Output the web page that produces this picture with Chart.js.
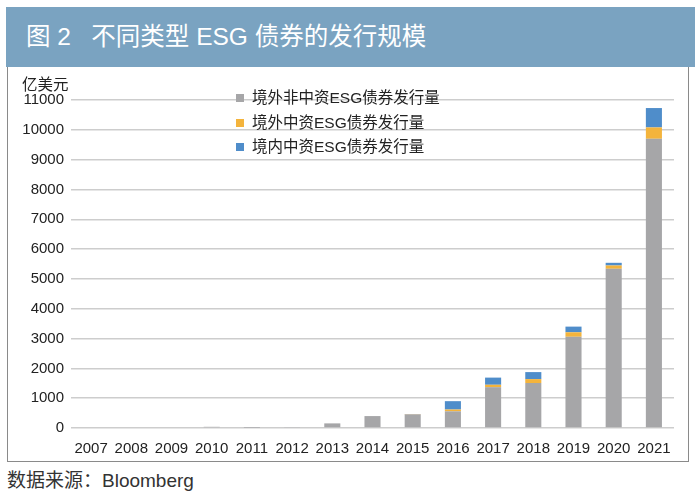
<!DOCTYPE html>
<html>
<head>
<meta charset="utf-8">
<script src="https://cdn.jsdelivr.net/npm/chart.js@4.4.1/dist/chart.umd.min.js"></script>
<style>
  body { margin: 0; background: #fff; width: 700px; height: 497px; position: relative; overflow: hidden;
         font-family: "Liberation Sans", "Noto Sans CJK SC", sans-serif; }
  #band { position: absolute; left: 6px; top: 7px; width: 689px; height: 60px; background: #7aa3c1; }
  #title { position: absolute; left: 26px; top: 22px; color: #fff; font-size: 24.5px; line-height: 30px;
           white-space: pre; }
  #box { position: absolute; left: 7px; top: 67px; width: 680px; height: 394px; border: 1px solid #8a8a8a; border-top: none; }
  #wrap { position: absolute; left: 8px; top: 67px; width: 680px; height: 394px; }
  #unit { position: absolute; left: 22px; top: 72px; font-size: 15.5px; color: #222; }
  #legend { position: absolute; left: 236px; top: 87px; font-size: 15.5px; color: #222; }
  #legend div { height: 24.5px; line-height: 22px; white-space: nowrap; }
  #legend span { display: inline-block; width: 8px; height: 8px; margin-right: 8px; vertical-align: 1px; }
  #source { position: absolute; left: 7px; top: 465px; font-size: 19px; color: #333; }
</style>
</head>
<body>
<div id="band"></div>
<div id="title">图 2   不同类型 ESG 债券的发行规模</div>
<div id="box"></div>
<div id="wrap"><canvas id="c"></canvas></div>
<div id="unit">亿美元</div>
<div id="legend"></div>
<div id="source">数据来源：Bloomberg</div>
<script>
const years = ["2007","2008","2009","2010","2011","2012","2013","2014","2015","2016","2017","2018","2019","2020","2021"];
// 亿美元
const offshoreNonChina = [0, 0, 0, 40, 5, 20, 155, 400, 460, 560, 1370, 1510, 3060, 5340, 9700];
const offshoreChina    = [0, 0, 0, 0, 0, 0, 0, 0, 10, 60, 80, 130, 150, 110, 380];
const onshoreChina     = [0, 0, 0, 0, 0, 0, 0, 0, 0, 280, 240, 235, 190, 90, 650];
const seriesNames = ["境外非中资ESG债券发行量", "境外中资ESG债券发行量", "境内中资ESG债券发行量"];
const seriesColors = ["#a6a6a8", "#f4b43c", "#4f8dca"];

const fontFam = '"Liberation Sans", "Noto Sans CJK SC", sans-serif';

const chart = new Chart(document.getElementById("c"), {
  type: "bar",
  data: {
    labels: years,
    datasets: [offshoreNonChina, offshoreChina, onshoreChina].map((d, i) => ({
      label: seriesNames[i],
      data: d,
      backgroundColor: seriesColors[i],
      borderWidth: 0,
      barPercentage: 0.4,
      categoryPercentage: 1
    }))
  },
  options: {
    animation: false,
    responsive: true,
    maintainAspectRatio: false,
    layout: { padding: { top: 33, right: 14, left: 0, bottom: 0 } },
    plugins: { legend: { display: false }, tooltip: { enabled: false } },
    scales: {
      x: {
        stacked: true,
        grid: { display: false, drawTicks: false },
        border: { display: false },
        ticks: { color: "#222", font: { family: fontFam, size: 15 }, padding: 12, maxRotation: 0 },
        afterFit: s => { s.height = 33; }
      },
      y: {
        stacked: true,
        min: 0,
        max: 11000,
        grid: { color: "#cdcdcd", lineWidth: 1.5, drawTicks: false },
        border: { display: false },
        ticks: { stepSize: 1000, color: "#222", font: { family: fontFam, size: 15 }, padding: 7,
                 callback: v => String(v) },
        afterFit: s => { s.width = 63; }
      }
    }
  }
});

// legend built from dataset labels
const lg = document.getElementById("legend");
chart.data.datasets.forEach(ds => {
  const row = document.createElement("div");
  row.innerHTML = `<span style="background:${ds.backgroundColor}"></span>${ds.label}`;
  lg.appendChild(row);
});
</script>
</body>
</html>
